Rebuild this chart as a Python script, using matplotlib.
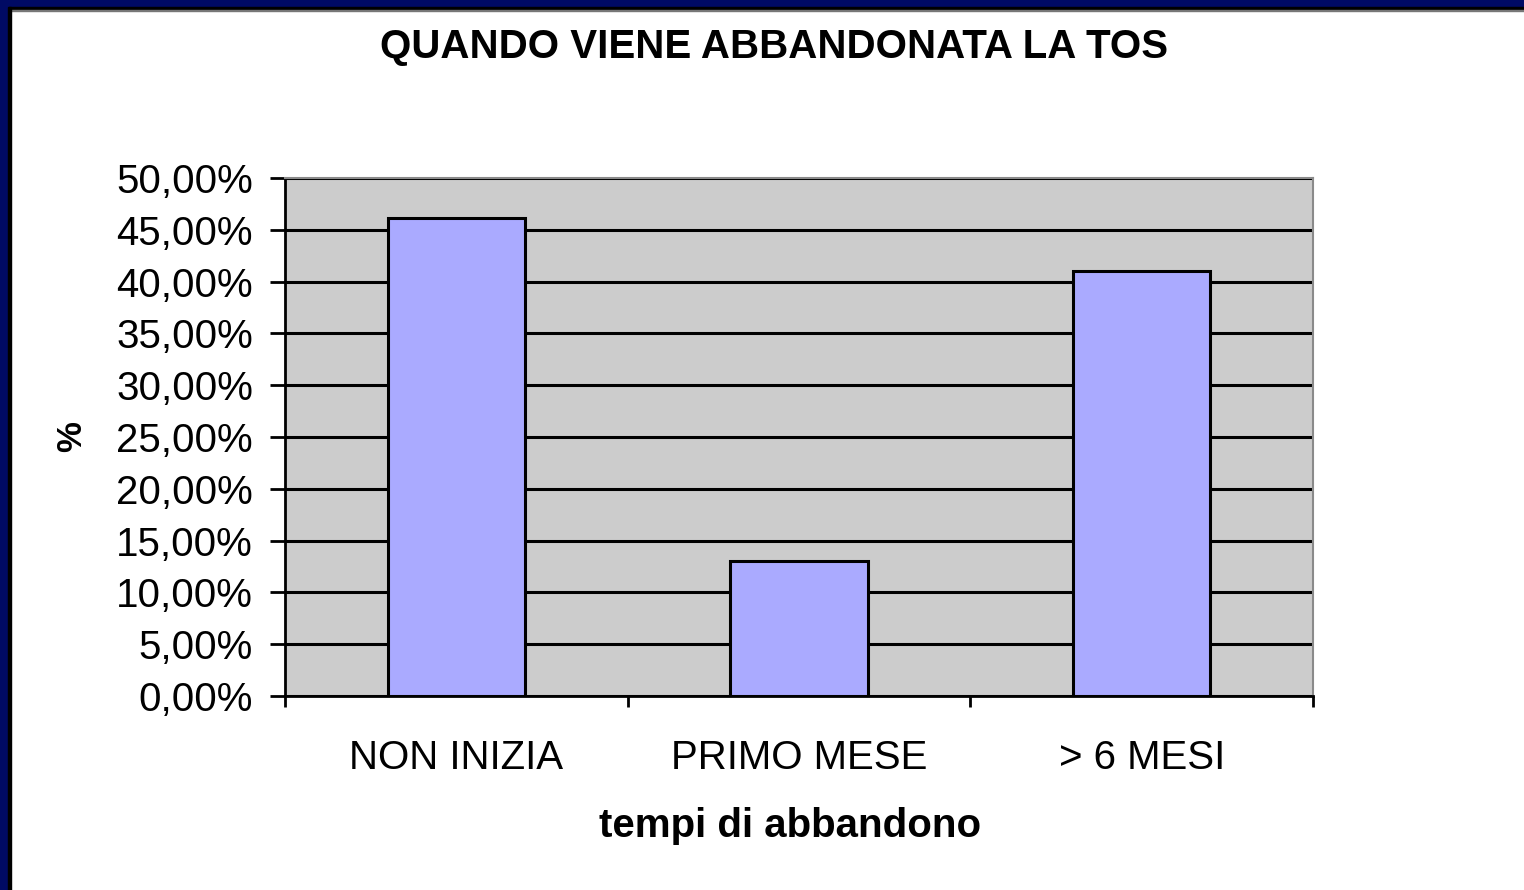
import matplotlib.pyplot as plt
from matplotlib.ticker import FuncFormatter, FixedLocator
from matplotlib.patches import Rectangle

categories = ["NON INIZIA", "PRIMO MESE", "> 6 MESI"]
values = [46.1, 13.0, 41.0]
title = "QUANDO VIENE ABBANDONATA LA TOS"
x_label = "tempi di abbandono"
y_label = "%"

plt.rcParams['font.family'] = ['Liberation Sans', 'DejaVu Sans']

W, H = 1524, 890
fig = plt.figure(figsize=(W / 100, H / 100), dpi=100)
fig.patch.set_facecolor("white")

# frame (navy + black) on top and left
fig.patches.append(Rectangle((0, 1 - 7 / H), 1, 7 / H, transform=fig.transFigure, color="#000A64", zorder=0))
fig.patches.append(Rectangle((0, 1 - 10 / H), 1, 3 / H, transform=fig.transFigure, color="black", zorder=0))
fig.patches.append(Rectangle((0, 1 - 11 / H), 1, 1 / H, transform=fig.transFigure, color="#777777", zorder=0))
fig.patches.append(Rectangle((0, 0), 8 / W, 1, transform=fig.transFigure, color="#000A64", zorder=1))
fig.patches.append(Rectangle((8 / W, 0), 3 / W, 1 - 7 / H, transform=fig.transFigure, color="black", zorder=1))

left, right, top, bottom = 285, 1313, 178, 696
ax = fig.add_axes([left / W, (H - bottom) / H, (right - left) / W, (bottom - top) / H])
ax.set_facecolor("#CCCCCC")

x = list(range(len(categories)))
ax.bar(x, values, width=0.4, color="#AAAAFF", edgecolor="black", linewidth=2.2, zorder=3)

ax.set_xlim(-0.5, len(categories) - 0.5)
ax.set_ylim(0, 50)
ax.set_yticks([i * 5 for i in range(11)])
ax.yaxis.set_major_formatter(FuncFormatter(lambda v, p: f"{v:.2f}".replace(".", ",") + "%"))
ax.grid(axis="y", color="black", linewidth=2.2, zorder=1)
ax.set_axisbelow(True)

ax.xaxis.set_major_locator(FixedLocator([i - 0.5 for i in range(len(categories) + 1)]))
ax.xaxis.set_major_formatter(FuncFormatter(lambda v, p: ""))
ax.xaxis.set_minor_locator(FixedLocator(x))
ax.set_xticklabels(categories, minor=True)
ax.tick_params(axis="x", which="major", direction="out", length=8, width=2, color="black")
ax.tick_params(axis="x", which="minor", length=0, pad=31, labelsize=29)
ax.tick_params(axis="y", direction="out", length=11, width=2, pad=12, labelsize=29)

for s in ["left", "bottom"]:
    ax.spines[s].set_color("black")
    ax.spines[s].set_linewidth(2)
for s in ["top", "right"]:
    ax.spines[s].set_color("#8A8A8A")
    ax.spines[s].set_linewidth(1.5)

fig.text(774 / W, 1 - 47 / H, title, ha="center", va="center", fontsize=29, fontweight="bold")
fig.text(790 / W, 1 - 826 / H, x_label, ha="center", va="center", fontsize=29, fontweight="bold")
fig.text(72 / W, 1 - 437 / H, y_label, ha="center", va="center", fontsize=25, fontweight="bold", rotation=90)

fig.savefig("out.png", dpi=100)
